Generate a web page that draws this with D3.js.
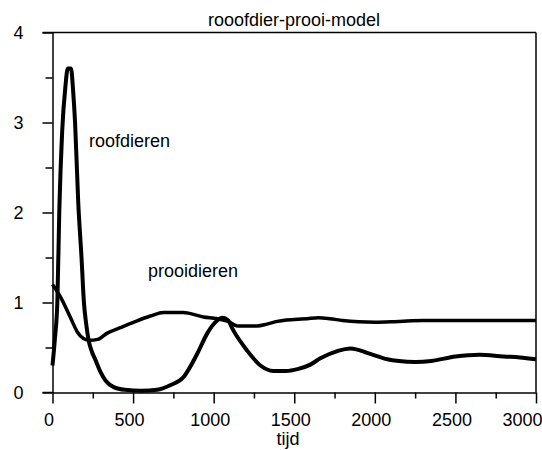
<!DOCTYPE html>
<html>
<head>
<meta charset="utf-8">
<script src="https://cdn.jsdelivr.net/npm/d3@7"></script>
<style>
  html, body { margin: 0; padding: 0; background: #fff; }
  svg { display: block; font-family: "Liberation Sans", Arial, sans-serif; }
</style>
</head>
<body>
<svg id="chart" width="542" height="450"></svg>
<script>
// Predator-prey simulation output: time (tijd) against population size
const roofTijd = [0, 15, 30, 42, 60, 80, 95, 115, 128, 140, 160, 180, 195, 210, 223, 245, 267, 300, 330, 380, 450, 550, 650, 730, 812, 898, 961, 1022, 1055, 1090, 1122, 1206, 1290, 1370, 1450, 1520, 1600, 1662, 1767, 1848, 1972, 2077, 2150, 2250, 2350, 2500, 2650, 2800, 2900, 3000];
const roofdieren = [0.3, 0.6, 1.0, 2.0, 2.9, 3.4, 3.6, 3.6, 3.35, 3.0, 2.1, 1.5, 1.0, 0.75, 0.59, 0.45, 0.36, 0.22, 0.13, 0.06, 0.03, 0.02, 0.03, 0.08, 0.17, 0.43, 0.66, 0.8, 0.83, 0.8, 0.69, 0.47, 0.3, 0.24, 0.24, 0.26, 0.31, 0.38, 0.46, 0.49, 0.43, 0.37, 0.35, 0.34, 0.35, 0.4, 0.42, 0.4, 0.39, 0.37];

const prooiTijd = [0, 50, 112, 155, 192, 230, 280, 340, 420, 502, 607, 690, 812, 936, 1022, 1090, 1147, 1200, 1271, 1330, 1395, 1431, 1500, 1580, 1650, 1720, 1800, 1900, 2000, 2100, 2200, 2300, 2500, 2800, 3000];
const prooidieren = [1.2, 1.06, 0.83, 0.67, 0.6, 0.58, 0.59, 0.66, 0.72, 0.78, 0.85, 0.89, 0.89, 0.84, 0.82, 0.79, 0.74, 0.74, 0.74, 0.76, 0.79, 0.8, 0.81, 0.82, 0.83, 0.82, 0.8, 0.785, 0.78, 0.785, 0.795, 0.8, 0.8, 0.8, 0.8];

const xTicks = [0, 500, 1000, 1500, 2000, 2500, 3000];
const xMinorTicks = [250, 750, 1250, 1750, 2250, 2750];
const yTicks = [0, 1, 2, 3, 4];
const yMinorTicks = [0.5, 1.5, 2.5, 3.5];

const titel = "rooofdier-prooi-model";
const xLabel = "tijd";

const svg = d3.select("#chart");
const plotLeft = 52.5, plotRight = 536, plotTop = 32.5, plotBottom = 392.5;

const x = d3.scaleLinear().domain([0, 3000]).range([plotLeft, plotRight]);
const y = d3.scaleLinear().domain([0, 4]).range([plotBottom, plotTop]);

const ink = "#000";

// frame: top and right edges
svg.append("line").attr("x1", plotLeft - 10).attr("x2", plotRight).attr("y1", plotTop).attr("y2", plotTop)
  .attr("stroke", ink).attr("stroke-width", 1.5);
svg.append("line").attr("x1", plotRight).attr("x2", plotRight).attr("y1", plotTop).attr("y2", plotBottom)
  .attr("stroke", ink).attr("stroke-width", 1.5);

// y axis with major and minor ticks
const yAxis = svg.append("g").attr("transform", `translate(${plotLeft},0)`)
  .call(d3.axisLeft(y).tickValues(yTicks).tickFormat(d3.format("d")).tickSize(10).tickSizeOuter(0));
svg.append("g").attr("transform", `translate(${plotLeft},0)`)
  .call(d3.axisLeft(y).tickValues(yMinorTicks).tickFormat("").tickSize(7).tickSizeOuter(0))
  .call(g => g.select(".domain").remove());

// x axis with major and minor ticks
const xAxis = svg.append("g").attr("transform", `translate(0,${plotBottom})`)
  .call(d3.axisBottom(x).tickValues(xTicks).tickFormat(d3.format("d")).tickSize(11).tickSizeOuter(0));
svg.append("g").attr("transform", `translate(0,${plotBottom})`)
  .call(d3.axisBottom(x).tickValues(xMinorTicks).tickFormat("").tickSize(6).tickSizeOuter(0))
  .call(g => g.select(".domain").remove());

// extend the x axis line past the origin, as the tick marks do
svg.append("line").attr("x1", plotLeft - 10).attr("x2", plotLeft).attr("y1", plotBottom).attr("y2", plotBottom)
  .attr("stroke", ink).attr("stroke-width", 1.5);

svg.selectAll(".domain, .tick line").attr("stroke", ink).attr("stroke-width", 1.5);
svg.selectAll(".tick text").attr("fill", ink).attr("font-size", 18)
  .attr("font-family", "'Liberation Sans', Arial, sans-serif");

yAxis.selectAll(".tick text").attr("x", -29).attr("text-anchor", "end").attr("dy", "0.36em");
xAxis.selectAll(".tick text").attr("y", 21).attr("dy", "0.71em").attr("dx", -4);
xAxis.selectAll(".tick text").filter(d => d === 3000).attr("text-anchor", "end").attr("dx", 6);

// population curves
const line = d3.line().curve(d3.curveMonotoneX);

svg.append("path")
  .attr("d", line(prooiTijd.map((t, i) => [x(t), y(prooidieren[i])])))
  .attr("fill", "none").attr("stroke", ink).attr("stroke-width", 3.5)
  .attr("stroke-linejoin", "round");

svg.append("path")
  .attr("d", line(roofTijd.map((t, i) => [x(t), y(roofdieren[i])])))
  .attr("fill", "none").attr("stroke", ink).attr("stroke-width", 4)
  .attr("stroke-linejoin", "round");

// labels
svg.append("text").attr("x", 294).attr("y", 26).attr("text-anchor", "middle")
  .attr("font-size", 18).attr("fill", ink).text(titel);
svg.append("text").attr("x", 89).attr("y", 147)
  .attr("font-size", 18).attr("fill", ink).text("roofdieren");
svg.append("text").attr("x", 148).attr("y", 277)
  .attr("font-size", 18).attr("fill", ink).text("prooidieren");
svg.append("text").attr("x", 288).attr("y", 445).attr("text-anchor", "middle")
  .attr("font-size", 18).attr("fill", ink).text(xLabel);
</script>
</body>
</html>
